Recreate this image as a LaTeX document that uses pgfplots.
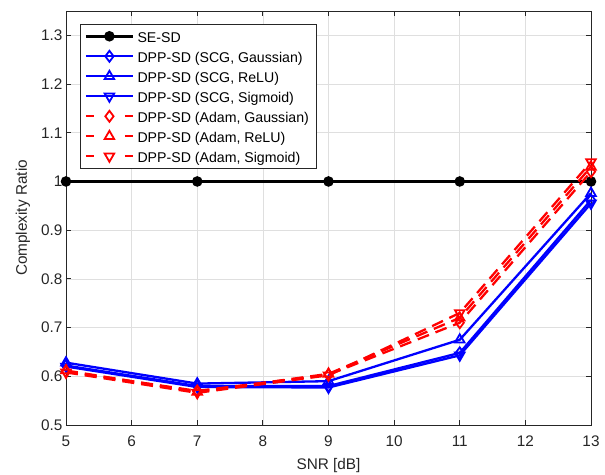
\documentclass[border=0pt]{standalone}
\usepackage{fontspec}
\setmainfont{Liberation Sans}
\usepackage{pgfplots}
\pgfplotsset{compat=1.18}
\definecolor{gridc}{RGB}{223,223,223}
\definecolor{axc}{RGB}{38,38,38}
\pgfplotsset{
 solidleg/.style={legend image code/.code={\draw[mark repeat=2,mark phase=2] plot coordinates {(0bp,0bp) (23.5bp,0bp) (47bp,0bp)};}},
 dashleg/.style={legend image code/.code={\draw[mark=none, dash pattern=on 8bp off 31bp] (0bp,0bp) -- (47bp,0bp); \draw[solid] plot coordinates {(23.5bp,0bp)};}},
}
\begin{document}
\begin{tikzpicture}
\begin{axis}[name=ax, scale only axis, width=525bp, height=414bp,
 xmin=5, xmax=13, ymin=0.5, ymax=1.35,
 xtick={5,6,7,8,9,10,11,12,13},
 ytick={0.5,0.6,0.7,0.8,0.9,1,1.1,1.2,1.3},
 grid=major, major grid style={gridc, line width=0.7bp},
 axis line style={axc, line width=0.8bp},
 tick style={axc, line width=0.8bp}, tick align=inside, major tick length=5bp,
 xtick pos=both, ytick pos=both,
 /pgf/number format/assume math mode=true,
 ticklabel style={font=\fontsize{15.4}{18}\selectfont, text=axc},
 xticklabel style={yshift=-7bp},
 label style={font=\fontsize{15.4}{18}\selectfont, text=axc},
 xlabel={SNR [dB]}, ylabel={Complexity Ratio},
 xlabel style={at={(axis description cs:0.5,-0.097)}, anchor=center},
 ylabel style={at={(axis description cs:-0.082,0.5)}, anchor=center},
 legend style={at={(axis description cs:0.0267,0.9686)}, anchor=north west,
   draw=axc, line width=0.6bp, fill=white, font=\fontsize{14.2}{16}\selectfont,
   row sep=4bp, inner xsep=4bp, inner ysep=4bp,
   nodes={inner xsep=3bp, inner ysep=0bp, text height=14bp, text depth=2bp}},
 legend cell align=left,
]
\addplot[black, line width=3.2bp, mark=*, mark size=3.6bp, mark options={solid}, solidleg]
 coordinates {(5,1) (7,1) (9,1) (11,1) (13,1)};
\addlegendentry{SE-SD}
\addplot[blue, line width=2.3bp, mark=diamond, mark size=5.5bp, mark options={solid, line width=1.8bp}, solidleg]
 coordinates {(5,0.622) (7,0.580) (9,0.580) (11,0.648) (13,0.962)};
\addlegendentry{DPP-SD (SCG, Gaussian)}
\addplot[blue, line width=2.3bp, mark=triangle, mark size=5.5bp, mark options={solid, line width=1.8bp}, solidleg]
 coordinates {(5,0.628) (7,0.585) (9,0.590) (11,0.675) (13,0.976)};
\addlegendentry{DPP-SD (SCG, ReLU)}
\addplot[blue, line width=2.3bp, mark=triangle, mark size=5.5bp, mark options={solid, line width=1.8bp, rotate=180}, solidleg]
 coordinates {(5,0.620) (7,0.578) (9,0.577) (11,0.643) (13,0.955)};
\addlegendentry{DPP-SD (SCG, Sigmoid)}
\addplot[red, line width=2.3bp, dash pattern=on 12bp off 7bp, mark=diamond, mark size=5.5bp, mark options={solid, line width=1.8bp}, dashleg]
 coordinates {(5,0.610) (7,0.570) (9,0.603) (11,0.710) (13,1.020)};
\addlegendentry{DPP-SD (Adam, Gaussian)}
\addplot[red, line width=2.3bp, dash pattern=on 12bp off 7bp, mark=triangle, mark size=5.5bp, mark options={solid, line width=1.8bp}, dashleg]
 coordinates {(5,0.612) (7,0.568) (9,0.605) (11,0.720) (13,1.030)};
\addlegendentry{DPP-SD (Adam, ReLU)}
\addplot[red, line width=2.3bp, dash pattern=on 12bp off 7bp, mark=triangle, mark size=5.5bp, mark options={solid, line width=1.8bp, rotate=180}, dashleg]
 coordinates {(5,0.608) (7,0.566) (9,0.602) (11,0.730) (13,1.040)};
\addlegendentry{DPP-SD (Adam, Sigmoid)}
\end{axis}
\pgfresetboundingbox
\useasboundingbox ([shift={(-66bp,-50bp)}]ax.south west) rectangle ([shift={(14bp,11bp)}]ax.north east);
\end{tikzpicture}
\end{document}
